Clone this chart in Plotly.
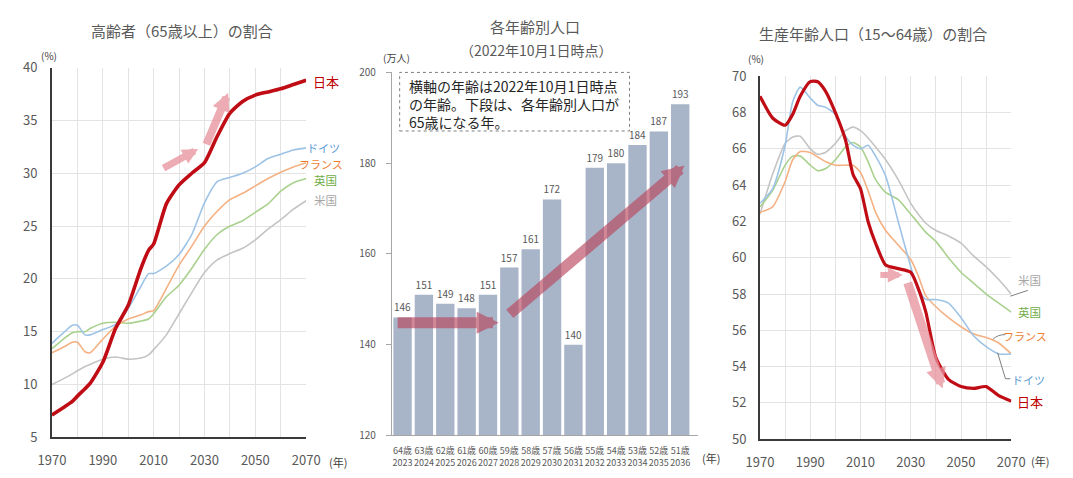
import plotly.graph_objects as go

FONT = "Noto Sans CJK JP"
GRAY_TXT = "#595959"

# ---------------- Left panel: share of 65+ ----------------
years_old = [1970, 1975, 1978, 1980, 1983, 1985, 1990, 1995, 2000, 2005, 2008, 2010,
             2015, 2020, 2025, 2030, 2035, 2040, 2045, 2050, 2055, 2060, 2065, 2070]
old_japan = [7.1, 7.9, 8.4, 8.9, 9.6, 10.1, 12.1, 15.3, 17.5, 21.0, 22.7, 23.3,
             27.1, 28.9, 30.0, 31.0, 33.5, 35.7, 36.8, 37.4, 37.7, 38.0, 38.4, 38.8]
old_germany = [13.9, 15.0, 15.6, 15.6, 14.7, 14.7, 15.2, 15.7, 17.2, 19.3, 20.5, 20.5,
               21.2, 22.3, 24.2, 27.2, 29.2, 29.6, 30.0, 30.6, 31.4, 31.8, 32.2, 32.4]
old_france = [13.0, 13.6, 14.0, 14.0, 13.1, 13.0, 14.3, 15.5, 16.2, 16.6, 16.9, 17.0,
              19.1, 21.3, 23.1, 25.0, 26.4, 27.5, 28.1, 28.8, 29.5, 30.1, 30.6, 31.0]
old_uk = [13.4, 14.4, 14.9, 15.0, 15.0, 15.3, 15.8, 15.9, 15.8, 16.0, 16.2, 16.7,
          18.3, 19.4, 21.0, 22.8, 24.2, 25.0, 25.5, 26.3, 27.1, 28.3, 29.1, 29.5]
old_us = [10.0, 10.6, 11.0, 11.3, 11.7, 11.9, 12.4, 12.6, 12.4, 12.5, 12.8, 13.3,
          14.7, 16.7, 18.7, 20.6, 21.8, 22.4, 22.9, 23.7, 24.7, 25.6, 26.6, 27.4]

# ---------------- Middle panel: population by age ----------------
ages = ["64歳", "63歳", "62歳", "61歳", "60歳", "59歳", "58歳", "57歳", "56歳", "55歳",
        "54歳", "53歳", "52歳", "51歳"]
year65 = ["2023", "2024", "2025", "2026", "2027", "2028", "2029", "2030", "2031", "2032",
          "2033", "2034", "2035", "2036"]
population = [146, 151, 149, 148, 151, 157, 161, 172, 140, 179, 180, 184, 187, 193]

# ---------------- Right panel: share of 15-64 ----------------
years_work = [1970, 1975, 1980, 1983, 1986, 1990, 1993, 1996, 2000, 2004, 2007, 2010, 2013,
              2016, 2020, 2025, 2030, 2033, 2036, 2040, 2045, 2050, 2055, 2060, 2065, 2070]
work_japan = [68.9, 67.7, 67.3, 67.9, 68.9, 69.7, 69.7, 69.2, 68.0, 66.5, 64.6, 63.8, 62.0,
              60.8, 59.6, 59.4, 59.2, 58.3, 57.0, 54.5, 53.3, 52.9, 52.8, 52.9, 52.4, 52.1]
work_germany = [63.0, 63.8, 66.2, 68.6, 69.4, 68.8, 68.4, 68.3, 67.9, 66.7, 66.2, 66.0, 66.2,
                65.6, 64.5, 62.0, 59.5, 58.2, 57.7, 57.7, 57.5, 56.7, 55.7, 55.1, 54.7, 54.7]
work_france = [62.5, 62.8, 64.2, 65.4, 65.85, 65.8, 65.55, 65.3, 65.1, 65.1, 65.1, 64.7, 63.7,
               62.5, 61.5, 60.7, 59.9, 59.0, 57.9, 57.3, 56.7, 56.2, 55.8, 55.6, 55.3, 54.7]
work_uk = [62.8, 63.7, 65.1, 65.6, 65.6, 65.1, 64.8, 64.9, 65.4, 66.1, 66.35, 66.1, 65.3,
           64.3, 63.6, 63.2, 62.4, 61.9, 61.4, 60.9, 60.0, 59.2, 58.6, 58.0, 57.5, 57.0]
work_us = [62.4, 64.6, 66.3, 66.65, 66.7, 66.0, 65.7, 65.8, 66.3, 67.0, 67.2, 67.0, 66.6,
           66.1, 65.4, 64.3, 63.0, 62.4, 61.9, 61.5, 61.2, 60.8, 60.1, 59.5, 58.8, 58.0]

C_JP, C_DE, C_FR, C_UK, C_US = "#c00d15", "#9dc3e6", "#f4b183", "#a9d18e", "#c4c4c4"
T_JP, T_DE, T_FR, T_UK, T_US = "#c00000", "#5b9bd5", "#ed7d31", "#70ad47", "#a6a6a6"

fig = go.Figure()

def add_lines(xs, series, xa, ya):
    for vals, col, w in series:
        fig.add_trace(go.Scatter(x=xs, y=vals, mode="lines", xaxis=xa, yaxis=ya,
                                 line=dict(color=col, width=w, shape="spline", smoothing=0.6),
                                 hoverinfo="skip"))

add_lines(years_old, [(old_us, C_US, 1.6), (old_uk, C_UK, 1.6), (old_france, C_FR, 1.6),
                      (old_germany, C_DE, 1.6), (old_japan, C_JP, 3.6)], "x", "y")
add_lines(years_work, [(work_us, C_US, 1.6), (work_uk, C_UK, 1.6), (work_france, C_FR, 1.6),
                       (work_germany, C_DE, 1.6), (work_japan, C_JP, 3.2)], "x3", "y3")

cats = [f"{a}<br>{y}" for a, y in zip(ages, year65)]
fig.add_trace(go.Bar(x=cats, y=population, xaxis="x2", yaxis="y2",
                     marker=dict(color="#a8b4c8", line=dict(width=0)),
                     text=[str(v) for v in population], textposition="outside",
                     textfont=dict(size=10, color=GRAY_TXT, family=FONT),
                     cliponaxis=False, hoverinfo="skip"))

def px(x):
    return x / 1073.0

def py(y):
    return 1 - y / 478.0

grid = "#e3e3e3"
axis_dark = "#3a3a3a"
tf = dict(family=FONT, size=13, color=GRAY_TXT)
clear = "rgba(0,0,0,0)"

layout = dict(
    width=1073, height=478, margin=dict(l=0, r=0, t=0, b=0),
    paper_bgcolor="white", plot_bgcolor="white", showlegend=False,
    font=dict(family=FONT, color=GRAY_TXT),
    bargap=0.14,
    xaxis=dict(domain=[px(39), px(300)], anchor="y", range=[1970, 2070],
               tickvals=[1970, 1990, 2010, 2030, 2050, 2070],
               showgrid=True, gridcolor=grid, minor=dict(dtick=10, tick0=1970, showgrid=True, gridcolor=grid),
               showline=True, linecolor=axis_dark, linewidth=2, zeroline=False, tickfont=tf,
               ticks="outside", ticklen=10, tickcolor=clear),
    yaxis=dict(domain=[py(445), py(60)], anchor="x", range=[5, 40], dtick=5, showgrid=True, gridcolor=grid,
               showline=True, linecolor=axis_dark, linewidth=2, zeroline=False, tickfont=tf,
               ticks="outside", ticklen=10, tickcolor=clear),
    xaxis2=dict(domain=[px(388), px(702)], anchor="y2", type="category", showline=True, linecolor="#a6a6a6",
                linewidth=1, showgrid=False, tickangle=0,
                ticks="outside", ticklen=7, tickcolor=clear,
                tickfont=dict(family=FONT, size=9, color=GRAY_TXT)),
    yaxis2=dict(domain=[py(443), py(65)], anchor="x2", range=[120, 200], dtick=20, showgrid=False,
                showline=True, linecolor="#a6a6a6", linewidth=1, zeroline=False,
                ticks="outside", ticklen=5, tickcolor="#a6a6a6", ticklabelstandoff=8,
                tickfont=dict(family=FONT, size=10, color=GRAY_TXT)),
    xaxis3=dict(domain=[px(766), px(1024)], anchor="y3", range=[1970, 2070],
                tickvals=[1970, 1990, 2010, 2030, 2050, 2070],
                showgrid=True, gridcolor=grid, minor=dict(dtick=10, tick0=1970, showgrid=True, gridcolor=grid),
                showline=True, linecolor=axis_dark, linewidth=2, zeroline=False, tickfont=tf,
                ticks="outside", ticklen=10, tickcolor=clear),
    yaxis3=dict(domain=[py(447), py(69)], anchor="x3", range=[50, 70], dtick=2, showgrid=True, gridcolor=grid,
                showline=True, linecolor=axis_dark, linewidth=2, zeroline=False, tickfont=tf,
                ticks="outside", ticklen=9, tickcolor=clear),
)
fig.update_layout(**layout)

ann = []

def text(x, y, s, size=13, color=GRAY_TXT, xanchor="center"):
    ann.append(dict(xref="paper", yref="paper", x=px(x), y=py(y), text=s, showarrow=False,
                    xanchor=xanchor, yanchor="middle", font=dict(family=FONT, size=size, color=color)))

# titles and units
text(172, 21, "高齢者（65歳以上）の割合", 15)
text(535, 17, "各年齢別人口", 15)
text(536, 42, "（2022年10月1日時点）", 14)
text(882, 24, "生産年齢人口（15〜64歳）の割合", 15)
text(36, 47, "(%)", 10, "#404040")
text(762, 51, "(%)", 10, "#404040")
text(393, 49, "(万人)", 10, "#404040")
text(333, 471, "(年)", 11, "#404040")
text(716, 467, "(年)", 11, "#404040")
text(1053, 470, "(年)", 11, "#404040")

# series labels left
text(320, 74, "日本", 13, T_JP)
text(318, 144, "ドイツ", 11, T_DE)
text(315, 160, "フランス", 11, T_FR)
text(320, 177, "英国", 11.5, T_UK)
text(320, 198, "米国", 11.5, T_US)
# series labels right
text(1043, 281, "米国", 11.5, T_US)
text(1043, 315, "英国", 11.5, T_UK)
text(1038, 340, "フランス", 11, T_FR)
text(1042, 385, "ドイツ", 11, T_DE)
text(1043, 408, "日本", 13, T_JP)

# note box text
note_lines = ["横軸の年齢は2022年10月1日時点", "の年齢。下段は、各年齢別人口が", "65歳になる年。"]
for i, line in enumerate(note_lines):
    text(404, 79 + 19 * i, line, 14, "#262626", xanchor="left")

def arrow(xr, yr, x0, y0, x1, y1, color, width, size, opacity):
    ann.append(dict(xref=xr, yref=yr, axref=xr, ayref=yr, x=x1, y=y1, ax=x0, ay=y0, text="",
                    showarrow=True, arrowhead=2, arrowsize=size, arrowwidth=width,
                    arrowcolor=color, opacity=opacity))

pink = "#e8909a"
arrow("x", "y", 2013.3, 30.4, 2027.5, 32.3, pink, 7, 0.45, 0.75)
arrow("x", "y", 2030.5, 32.6, 2039.3, 37.6, pink, 8, 0.45, 0.75)
arrow("x2", "y2", -0.3, 144.8, 4.5, 144.8, "#b9485f", 11, 0.4, 0.65)
arrow("x2", "y2", 4.95, 146.5, 13.2, 179.5, "#b9485f", 11, 0.4, 0.65)
arrow("x3", "y3", 2017.3, 59.05, 2026.8, 59.05, pink, 6, 0.5, 0.75)
arrow("x3", "y3", 2028.6, 58.7, 2042.6, 52.8, pink, 9, 0.45, 0.75)

fig.update_layout(annotations=ann)

# dotted note box and leader lines (decoration)
fig.add_shape(type="rect", xref="paper", yref="paper", x0=px(396), x1=px(632), y0=py(126), y1=py(65),
              line=dict(color="#7f7f7f", width=1, dash="dot"), fillcolor="white", layer="above")
fig.add_shape(type="line", xref="paper", yref="paper", x0=px(1023), y0=py(298), x1=px(1041), y1=py(292),
              line=dict(color="#7f7f7f", width=1))
fig.add_shape(type="path", xref="paper", yref="paper",
              path=f"M{px(1005)},{py(343)} Q{px(1010)},{py(338)} {px(1018)},{py(338)}",
              line=dict(color="#7f7f7f", width=1))
fig.add_shape(type="path", xref="paper", yref="paper",
              path=f"M{px(1010)},{py(357)} L{px(1018)},{py(384)} L{px(1023)},{py(384)}",
              line=dict(color="#7f7f7f", width=1))

fig.write_html("out.html")
